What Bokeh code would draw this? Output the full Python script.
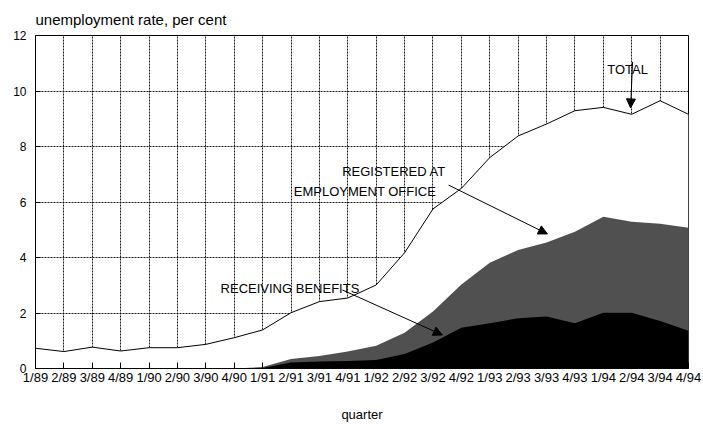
from bokeh.plotting import figure
from bokeh.models import Range1d, FixedTicker, Label, Arrow, NormalHead
from bokeh.embed import file_html
from bokeh.resources import INLINE

quarters = ["1/89", "2/89", "3/89", "4/89", "1/90", "2/90", "3/90", "4/90",
            "1/91", "2/91", "3/91", "4/91", "1/92", "2/92", "3/92", "4/92",
            "1/93", "2/93", "3/93", "4/93", "1/94", "2/94", "3/94", "4/94"]
total = [0.73, 0.61, 0.77, 0.63, 0.75, 0.75, 0.87, 1.11,
         1.39, 2.01, 2.41, 2.54, 3.01, 4.17, 5.75, 6.49,
         7.60, 8.38, 8.81, 9.29, 9.41, 9.16, 9.65, 9.16]
registered = [0.0, 0.0, 0.0, 0.0, 0.0, 0.0, 0.0, 0.0,
              0.05, 0.34, 0.45, 0.61, 0.82, 1.29, 2.05, 3.03,
              3.81, 4.27, 4.54, 4.93, 5.47, 5.29, 5.22, 5.07]
benefits = [0.0, 0.0, 0.0, 0.0, 0.0, 0.0, 0.0, 0.0,
            0.02, 0.22, 0.25, 0.27, 0.31, 0.52, 0.94, 1.47,
            1.63, 1.81, 1.87, 1.63, 2.01, 2.01, 1.71, 1.36]
y_ticks = [0, 2, 4, 6, 8, 10, 12]

xs = list(range(len(quarters)))
FONT = "Liberation Sans"

p = figure(width=703, height=425, x_range=Range1d(0, len(quarters) - 1),
           y_range=Range1d(0, 12), output_backend="svg", toolbar_location=None,
           min_border_left=35, min_border_right=15, min_border_top=35,
           min_border_bottom=57, title="unemployment rate, per cent")
p.background_fill_color = "white"
p.border_fill_color = "white"
p.outline_line_color = "black"
p.outline_line_width = 1

p.title.text_font = FONT
p.title.text_font_size = "15px"
p.title.text_font_style = "normal"
p.title.text_color = "black"
p.title.align = "left"
p.title.vertical_align = "top"
p.title.standoff = 12

# areas
p.varea(x=xs, y1=0, y2=total, fill_color="white")
p.varea(x=xs, y1=0, y2=registered, fill_color="#505050")
p.varea(x=xs, y1=0, y2=benefits, fill_color="black")
p.line(x=xs, y=total, line_color="black", line_width=1)

# axes
p.xaxis.ticker = FixedTicker(ticks=xs)
p.xaxis.major_label_overrides = {i: q for i, q in enumerate(quarters)}
p.yaxis.ticker = FixedTicker(ticks=y_ticks)
for ax in (p.xaxis[0], p.yaxis[0]):
    ax.axis_line_color = "black"
    ax.major_tick_line_color = "black"
    ax.major_tick_out = 0
    ax.minor_tick_line_color = None
    ax.major_label_text_font = FONT
    ax.major_label_text_color = "black"
p.xaxis.major_tick_in = 6
p.yaxis.major_tick_in = 5
p.xaxis.major_label_text_font_size = "13px"
p.yaxis.major_label_text_font_size = "12px"
p.xaxis.major_label_standoff = 1
p.yaxis.major_label_standoff = 9
p.xaxis.axis_label = "quarter"
p.xaxis.axis_label_text_font = FONT
p.xaxis.axis_label_text_font_size = "13px"
p.xaxis.axis_label_text_font_style = "normal"
p.xaxis.axis_label_text_color = "black"
p.xaxis.axis_label_standoff = 19

# grid
for g in (p.xgrid[0], p.ygrid[0]):
    g.grid_line_color = "black"
    g.grid_line_dash = "2 1"
    g.grid_line_width = 1
    g.grid_line_alpha = 0.9
p.xgrid.ticker = FixedTicker(ticks=xs)
p.ygrid.ticker = FixedTicker(ticks=y_ticks)

# annotations
def note(x, y, t):
    p.add_layout(Label(x=x, y=y, text=t, text_font=FONT, text_font_size="13px",
                       text_color="black", text_baseline="alphabetic"))

note(20.14, 10.76, "TOTAL")
note(10.80, 7.09, "REGISTERED AT")
note(9.10, 6.37, "EMPLOYMENT OFFICE")
note(6.52, 2.89, "RECEIVING BENEFITS")

def arrow(x0, y0, x1, y1):
    p.add_layout(Arrow(end=NormalHead(size=9, fill_color="black", line_color="black"),
                       x_start=x0, y_start=y0, x_end=x1, y_end=y1,
                       line_color="black", line_width=1))

arrow(21.03, 11.05, 20.96, 9.39)
arrow(14.55, 6.61, 18.03, 4.85)
arrow(10.81, 2.83, 14.33, 1.21)

open("out.html", "w").write(file_html(p, INLINE))
